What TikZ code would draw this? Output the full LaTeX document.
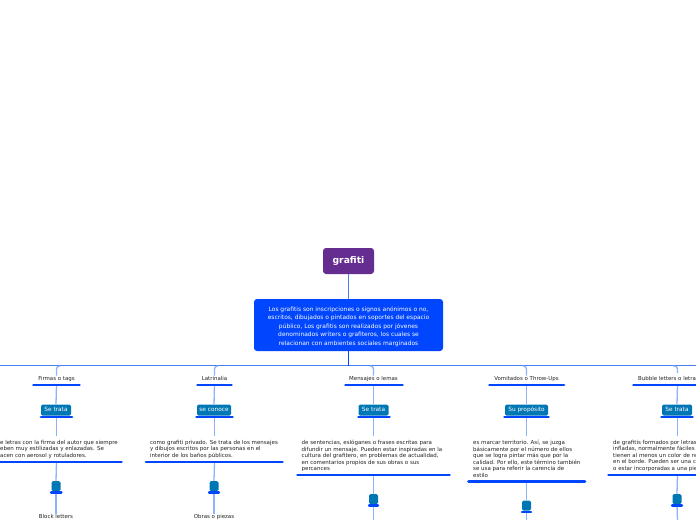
\documentclass[tikz,border=0pt]{standalone}
\usepackage{fontspec}
\setmainfont{DejaVu Sans}
\definecolor{purp}{HTML}{652D90}
\definecolor{mainb}{HTML}{0046FF}
\definecolor{teal1}{HTML}{0077B5}
\definecolor{linkb}{HTML}{8FB2FF}
\definecolor{hline}{HTML}{4A7FF0}
\definecolor{txt}{HTML}{222222}
\tikzset{
 rootbox/.style={fill=purp,rounded corners=3pt,text=white,font=\fontsize{9.2}{10}\selectfont\bfseries,minimum width=51pt,minimum height=26pt,inner sep=0pt},
 mainbox/.style={fill=mainb,rounded corners=3pt,minimum width=189pt,minimum height=52pt,inner sep=0pt,text=white,font=\fontsize{5.95}{8.55}\selectfont,align=center},
 tealbox/.style={fill=teal1,rounded corners=1.5pt,text=white,font=\fontsize{5.8}{6}\selectfont,minimum height=11pt,inner sep=0pt,text height=4.3pt,text depth=1.2pt},
 dotbox/.style={fill=teal1,rounded corners=1.5pt,minimum width=9pt,minimum height=10pt,inner sep=0pt},
 titletxt/.style={text=txt,font=\fontsize{5.45}{6}\selectfont,inner sep=0pt,text height=4.2pt,text depth=1.2pt},
 bodytxt/.style={text=txt,font=\fontsize{5.5}{6.5}\selectfont,inner sep=0pt,align=left,anchor=north west},
 uline/.style={draw=mainb,line width=2.9pt,line cap=round},
 link/.style={draw=linkb,line width=1.3pt},
 trunk/.style={draw=hline,line width=1.3pt},
}
\begin{document}
\begin{tikzpicture}[x=1pt,y=-1pt]
\useasboundingbox (0,0) rectangle (696,520);
\clip (0,0) rectangle (696,520);
\fill[white] (0,0) rectangle (696,520);

\node[rootbox] (root) at (348.5,261) {grafiti};
\node[mainbox] (main) at (348.5,325) {\rule{0pt}{7.5pt}Los grafitis son inscripciones o signos anónimos o no,\\escritos, dibujados o pintados en soportes del espacio\\público, Los grafitis son realizados por jóvenes\\denominados writers o grafiteros, los cuales se\\relacionan con ambientes sociales marginados};
\coordinate (bus) at (348.5,365.5);
\coordinate (busL) at (0,365.5);
\coordinate (busR) at (696,365.5);
\draw[trunk] (root.south) -- (main.north);
\draw[trunk] (busL) -- (busR);
\draw[draw=mainb,line width=1.6pt] (348.5,351) -- (bus);

% column 1
\node[titletxt] (t1) at (56.5,378.5) {Firmas o tags};
\coordinate (tu1a) at (33.5,385); \coordinate (tu1b) at (79.5,385); \coordinate (tu1) at (56.5,385);
\node[tealbox,minimum width=30pt] (b1) at (56,410) {Se trata};
\coordinate (bu1a) at (41,417); \coordinate (bu1b) at (72,417); \coordinate (bu1) at (56.5,417);
\node[bodytxt] (x1) at (0,440) {e letras con la firma del autor que siempre\\eben muy estilizadas y enlazadas. Se\\acen con aerosol y rotuladores.};
\coordinate (xu1a) at (0,462); \coordinate (xu1b) at (121.5,462); \coordinate (xu1) at (56.5,462);
\node[dotbox] (d1) at (56,486) {};
\coordinate (du1a) at (51,492.5); \coordinate (du1b) at (61.5,492.5); \coordinate (du1) at (56,492.5);
\node[titletxt] (e1) at (56,517) {Block letters};
\draw[link] (tu1) -- (b1.north);
\draw[link] (bu1) -- (56.5,436);
\draw[link] (xu1) -- (d1.north);
\draw[link] (du1) -- (e1.north);
\draw[link,rounded corners=3pt] (t1.north) -- (56.5,366) -- (60,366);
\draw[uline] (tu1a) -- (tu1b); \draw[uline] (bu1a) -- (bu1b); \draw[uline] (xu1a) -- (xu1b); \draw[uline,line width=2.2pt] (du1a) -- (du1b);

% column 2
\node[titletxt] (t2) at (214.5,378.5) {Latrinalia};
\coordinate (tu2a) at (197.5,385); \coordinate (tu2b) at (231.5,385); \coordinate (tu2) at (214.5,385);
\node[tealbox,minimum width=34pt] (b2) at (214,410) {se conoce};
\coordinate (bu2a) at (196.5,417); \coordinate (bu2b) at (232.5,417); \coordinate (bu2) at (214.5,417);
\node[bodytxt] (x2) at (150,440) {como grafiti privado. Se trata de los mensajes\\y dibujos escritos por las personas en el\\interior de los baños públicos.};
\coordinate (xu2a) at (146,462); \coordinate (xu2b) at (282.5,462); \coordinate (xu2) at (214.5,462);
\node[dotbox] (d2) at (214,486) {};
\coordinate (du2a) at (209,492.5); \coordinate (du2b) at (219,492.5); \coordinate (du2) at (214,492.5);
\node[titletxt] (e2) at (214,517) {Obras o piezas};
\draw[link] (tu2) -- (b2.north);
\draw[link] (bu2) -- (214.5,436);
\draw[link] (xu2) -- (d2.north);
\draw[link] (du2) -- (e2.north);
\draw[link,rounded corners=3pt] (t2.north) -- (214.5,366) -- (218,366);
\draw[uline] (tu2a) -- (tu2b); \draw[uline] (bu2a) -- (bu2b); \draw[uline] (xu2a) -- (xu2b); \draw[uline,line width=2.2pt] (du2a) -- (du2b);

% column 3
\node[titletxt] (t3) at (373.5,378.5) {Mensajes o lemas};
\coordinate (tu3a) at (345.5,385); \coordinate (tu3b) at (402.5,385); \coordinate (tu3) at (373.5,385);
\node[tealbox,minimum width=30pt] (b3) at (373.5,410) {Se trata};
\coordinate (bu3a) at (358.5,417); \coordinate (bu3b) at (389.5,417); \coordinate (bu3) at (373.5,417);
\node[bodytxt] (x3) at (301.5,440) {de sentencias, eslóganes o frases escritas para\\difundir un mensaje. Pueden estar inspiradas en la\\cultura del grafitero, en problemas de actualidad,\\en comentarios propios de sus obras o sus\\percances};
\coordinate (xu3a) at (297.5,475); \coordinate (xu3b) at (449.5,475); \coordinate (xu3) at (373.5,475);
\node[dotbox] (d3) at (373.5,499) {};
\coordinate (du3a) at (369,505.5); \coordinate (du3b) at (378,505.5); \coordinate (du3) at (373.5,505.5);
\coordinate (e3) at (373.5,520);
\draw[link] (tu3) -- (b3.north);
\draw[link] (bu3) -- (373.5,436);
\draw[link] (xu3) -- (d3.north);
\draw[link] (du3) -- (e3);
\draw[link,rounded corners=3pt] (t3.north) -- (373.5,366) -- (370,366);
\draw[uline] (tu3a) -- (tu3b); \draw[uline] (bu3a) -- (bu3b); \draw[uline] (xu3a) -- (xu3b); \draw[uline,line width=2.2pt] (du3a) -- (du3b);

% column 4
\node[titletxt] (t4) at (526.5,378.5) {Vomitados o Throw-Ups};
\coordinate (tu4a) at (489.5,385); \coordinate (tu4b) at (564,385); \coordinate (tu4) at (526.5,385);
\node[tealbox,minimum width=43pt] (b4) at (526.5,410) {Su propósito};
\coordinate (bu4a) at (504.5,417); \coordinate (bu4b) at (548.5,417); \coordinate (bu4) at (526.5,417);
\node[bodytxt] (x4) at (473,440) {es marcar territorio. Así, se juzga\\básicamente por el número de ellos\\que se logra pintar más que por la\\calidad. Por ello, este término también\\se usa para referir la carencia de\\estilo};
\coordinate (xu4a) at (468.5,481.5); \coordinate (xu4b) at (585,481.5); \coordinate (xu4) at (526.5,481.5);
\node[dotbox] (d4) at (526.5,505.5) {};
\coordinate (du4a) at (522,512); \coordinate (du4b) at (531,512); \coordinate (du4) at (526.5,512);
\coordinate (e4) at (526.5,520);
\draw[link] (tu4) -- (b4.north);
\draw[link] (bu4) -- (526.5,436);
\draw[link] (xu4) -- (d4.north);
\draw[link] (du4) -- (e4);
\draw[link,rounded corners=3pt] (t4.north) -- (526.5,366) -- (523,366);
\draw[uline] (tu4a) -- (tu4b); \draw[uline] (bu4a) -- (bu4b); \draw[uline] (xu4a) -- (xu4b); \draw[uline,line width=2.2pt] (du4a) -- (du4b);

% column 5
\node[titletxt,anchor=west] (t5) at (638,378.5) {Bubble letters o letra};
\coordinate (tu5a) at (633.5,385); \coordinate (tu5b) at (698,385); \coordinate (tu5) at (677.5,385);
\node[tealbox,minimum width=30pt] (b5) at (677,410) {Se trata};
\coordinate (bu5a) at (661.5,417); \coordinate (bu5b) at (692.5,417); \coordinate (bu5) at (677.5,417);
\node[bodytxt] (x5) at (613,440) {de grafitis formados por letras\\infladas, normalmente fáciles\\tienen al menos un color de re\\en el borde. Pueden ser una c\\o estar incorporadas a una pie};
\coordinate (xu5a) at (608.5,475); \coordinate (xu5b) at (698,475); \coordinate (xu5) at (677.5,475);
\node[dotbox] (d5) at (677,499) {};
\coordinate (du5a) at (672,505.5); \coordinate (du5b) at (682,505.5); \coordinate (du5) at (677,505.5);
\coordinate (e5) at (677.5,520);
\draw[link] (tu5) -- (b5.north);
\draw[link] (bu5) -- (677.5,436);
\draw[link] (xu5) -- (d5.north);
\draw[link] (du5) -- (e5);
\draw[link,rounded corners=3pt] (677.5,373) -- (677.5,366) -- (673,366);
\draw[uline] (tu5a) -- (tu5b); \draw[uline] (bu5a) -- (bu5b); \draw[uline] (xu5a) -- (xu5b); \draw[uline,line width=2.2pt] (du5a) -- (du5b);
\end{tikzpicture}
\end{document}
